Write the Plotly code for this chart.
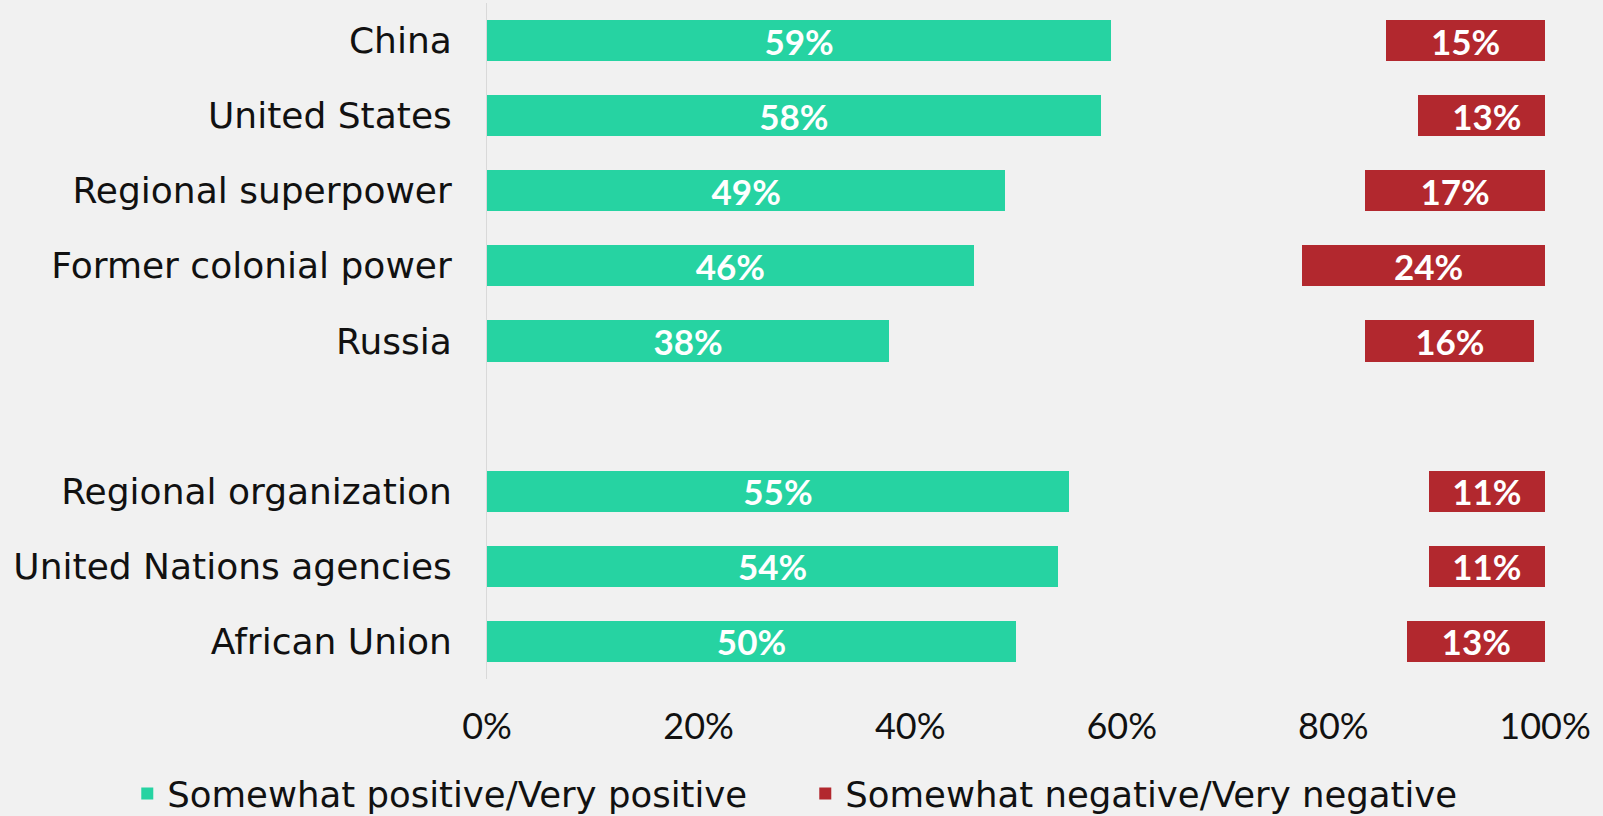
import plotly.graph_objects as go

categories = ["China", "United States", "Regional superpower", "Former colonial power",
              "Russia", " ", "Regional organization", "United Nations agencies", "African Union"]
positive = [59, 58, 49, 46, 38, None, 55, 54, 50]
other = [26, 30, 34, 31, 45, None, 34, 35, 37]
negative = [15, 13, 17, 24, 16, None, 11, 11, 13]
x_ticks = [0, 20, 40, 60, 80, 100]

GREEN = "#26D3A2"
RED = "#B2282E"
BG = "#F1F1F1"
LABEL_FONT = "DejaVu Sans"
TICK_FONT = "Lato"

def labels(vals):
    return [f"{v}%" if v is not None else "" for v in vals]

fig = go.Figure()
fig.add_trace(go.Bar(
    y=categories, x=positive, orientation="h", name="Somewhat positive/Very positive",
    marker=dict(color=GREEN, line=dict(width=0)), text=labels(positive), textposition="inside",
    insidetextanchor="middle", constraintext="none",
    textfont=dict(color="white", size=35, family=TICK_FONT, weight="bold"),
))
fig.add_trace(go.Bar(
    y=categories, x=other, orientation="h", name="Other",
    marker=dict(color="rgba(0,0,0,0)", line=dict(width=0)), showlegend=False, hoverinfo="skip",
))
fig.add_trace(go.Bar(
    y=categories, x=negative, orientation="h", name="Somewhat negative/Very negative",
    marker=dict(color=RED, line=dict(width=0)), text=labels(negative), textposition="inside",
    insidetextanchor="middle", constraintext="none",
    textfont=dict(color="white", size=35, family=TICK_FONT, weight="bold"),
))

fig.update_layout(
    barmode="stack",
    bargap=0.453,
    width=1603, height=816,
    margin=dict(l=487, r=58, t=3, b=137, autoexpand=False),
    paper_bgcolor=BG, plot_bgcolor=BG,
    font=dict(family=LABEL_FONT, color="#111111", size=36),
    xaxis=dict(range=[0, 100], tickvals=x_ticks, ticktext=[f"{t}%" for t in x_ticks],
               showgrid=False, zeroline=False, showline=False,
               tickfont=dict(size=36, family=TICK_FONT), ticklabelstandoff=23),
    yaxis=dict(categoryorder="array", categoryarray=categories, autorange="reversed",
               showgrid=False, zeroline=False, showline=True, linecolor="#D9D9D9", linewidth=1,
               tickfont=dict(size=36, family=LABEL_FONT), ticklabelstandoff=27),
    legend=dict(orientation="h", traceorder="normal", x=-0.340, xanchor="left",
                y=-0.170, yanchor="middle", entrywidth=633, entrywidthmode="pixels",
                font=dict(size=35.5, family=LABEL_FONT), bgcolor="rgba(0,0,0,0)"),
    showlegend=True,
)

fig.write_html("out.html", config={"displayModeBar": False},
               post_script="document.body.style.margin='0';document.body.style.overflow='hidden';")
